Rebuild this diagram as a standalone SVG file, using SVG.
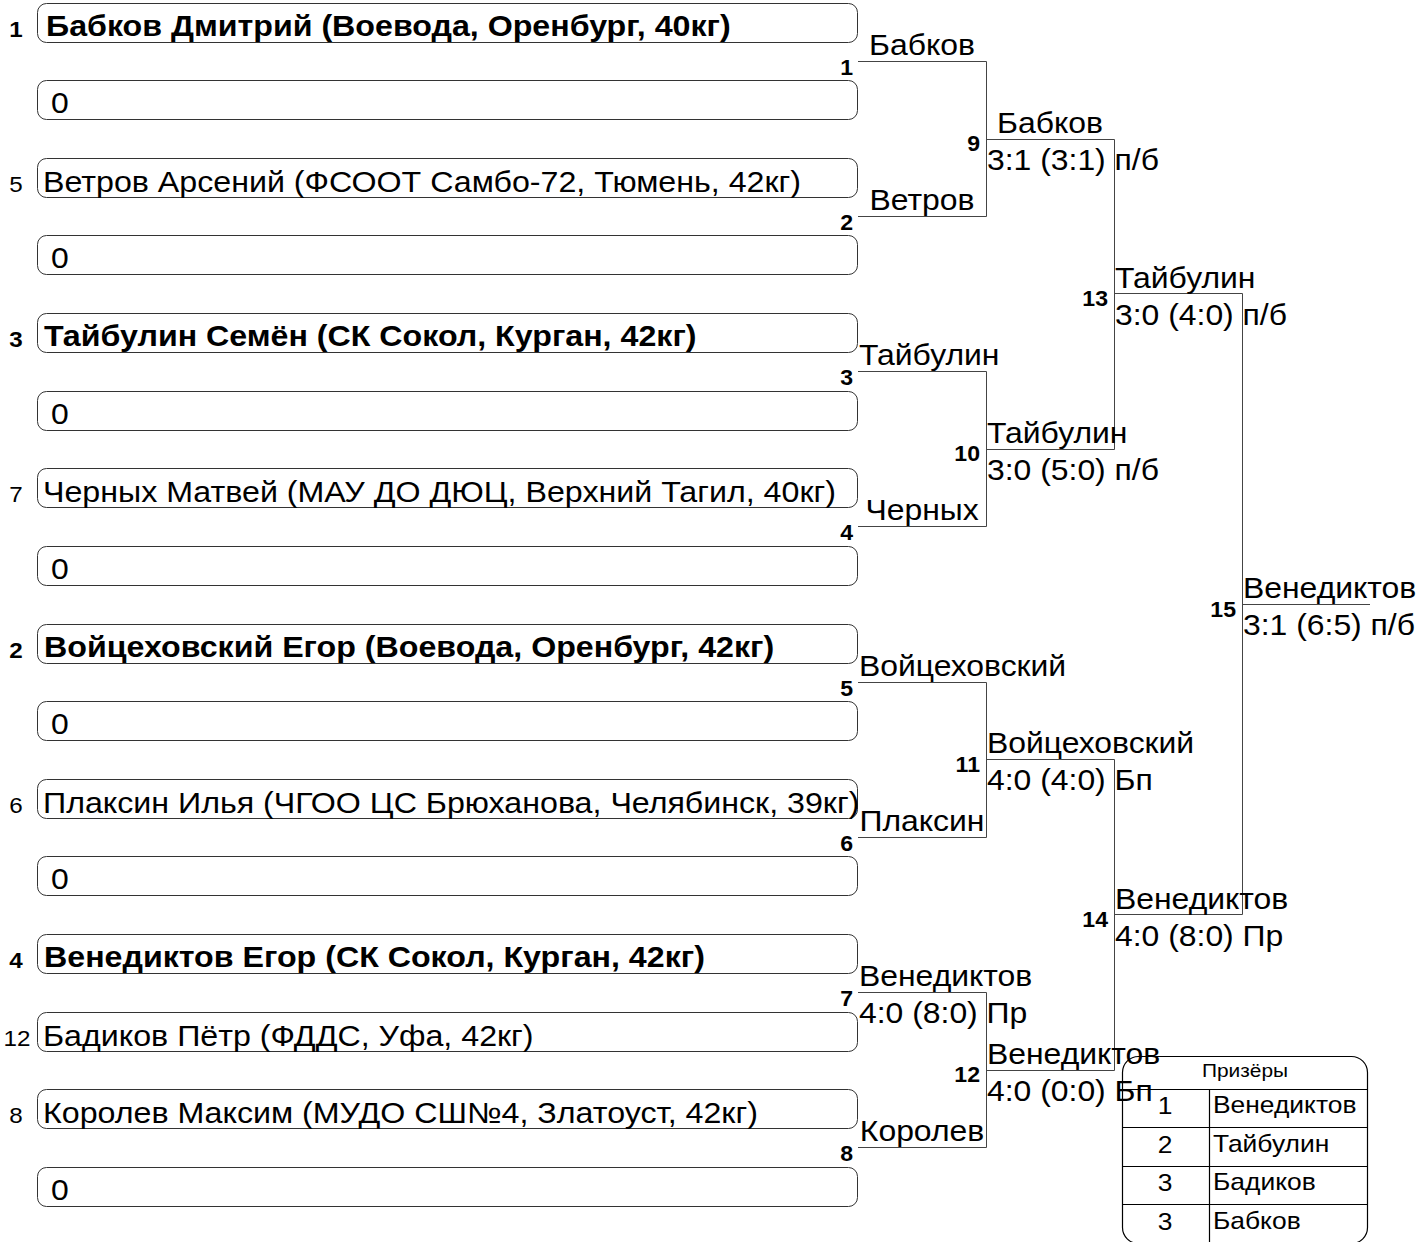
<svg xmlns="http://www.w3.org/2000/svg" width="1418" height="1242" viewBox="0 0 1418 1242">
<style>
  text { font-family: "Liberation Sans", Arial, sans-serif; fill: #000; }
  .box { fill: #fff; stroke: #333; stroke-width: 1; }
  .name { font-size: 29px; }
  .bold { font-weight: bold; }
  .seed { font-size: 22px; text-anchor: middle; }
  .lbl { font-size: 29px; }
  .mid { text-anchor: middle; }
  .num { font-size: 22px; font-weight: bold; text-anchor: end; }
  .conn { fill: none; stroke: #444; stroke-width: 1; }
  .tbl { fill: none; stroke: #000; stroke-width: 1.2; }
  .th { font-size: 19px; text-anchor: middle; }
  .tn { font-size: 24px; text-anchor: middle; }
  .tt { font-size: 24px; }
</style>
<rect width="1418" height="1242" fill="#fff"/>

<g id="participants">
  <g id="slot-1" transform="translate(0,3.5)"><rect class="box" x="37.5" y="0" width="820" height="39" rx="9"/><text class="seed bold" transform="translate(16,33) scale(1.1,1)">1</text><text class="name bold" transform="translate(46,32) scale(1.11,1)">Бабков Дмитрий (Воевода, Оренбург, 40кг)</text></g>
  <g id="slot-2" transform="translate(0,80.5)"><rect class="box" x="37.5" y="0" width="820" height="39" rx="9"/><text class="name" transform="translate(51,32) scale(1.1,1)">0</text></g>
  <g id="slot-3" transform="translate(0,158.5)"><rect class="box" x="37.5" y="0" width="820" height="39" rx="9"/><text class="seed" transform="translate(16,33) scale(1.1,1)">5</text><text class="name" transform="translate(43,33) scale(1.11,1)">Ветров Арсений (ФСООТ Самбо-72, Тюмень, 42кг)</text></g>
  <g id="slot-4" transform="translate(0,235.5)"><rect class="box" x="37.5" y="0" width="820" height="39" rx="9"/><text class="name" transform="translate(51,32) scale(1.1,1)">0</text></g>
  <g id="slot-5" transform="translate(0,313.5)"><rect class="box" x="37.5" y="0" width="820" height="39" rx="9"/><text class="seed bold" transform="translate(16,33) scale(1.1,1)">3</text><text class="name bold" transform="translate(44,32) scale(1.11,1)">Тайбулин Семён (СК Сокол, Курган, 42кг)</text></g>
  <g id="slot-6" transform="translate(0,391.5)"><rect class="box" x="37.5" y="0" width="820" height="39" rx="9"/><text class="name" transform="translate(51,32) scale(1.1,1)">0</text></g>
  <g id="slot-7" transform="translate(0,468.5)"><rect class="box" x="37.5" y="0" width="820" height="39" rx="9"/><text class="seed" transform="translate(16,33) scale(1.1,1)">7</text><text class="name" transform="translate(43,33) scale(1.11,1)">Черных Матвей (МАУ ДО ДЮЦ, Верхний Тагил, 40кг)</text></g>
  <g id="slot-8" transform="translate(0,546.5)"><rect class="box" x="37.5" y="0" width="820" height="39" rx="9"/><text class="name" transform="translate(51,32) scale(1.1,1)">0</text></g>
  <g id="slot-9" transform="translate(0,624.5)"><rect class="box" x="37.5" y="0" width="820" height="39" rx="9"/><text class="seed bold" transform="translate(16,33) scale(1.1,1)">2</text><text class="name bold" transform="translate(44,32) scale(1.11,1)">Войцеховский Егор (Воевода, Оренбург, 42кг)</text></g>
  <g id="slot-10" transform="translate(0,701.5)"><rect class="box" x="37.5" y="0" width="820" height="39" rx="9"/><text class="name" transform="translate(51,32) scale(1.1,1)">0</text></g>
  <g id="slot-11" transform="translate(0,779.5)"><rect class="box" x="37.5" y="0" width="820" height="39" rx="9"/><text class="seed" transform="translate(16,33) scale(1.1,1)">6</text><text class="name" transform="translate(43,33) scale(1.11,1)">Плаксин Илья (ЧГОО ЦС Брюханова, Челябинск, 39кг)</text></g>
  <g id="slot-12" transform="translate(0,856.5)"><rect class="box" x="37.5" y="0" width="820" height="39" rx="9"/><text class="name" transform="translate(51,32) scale(1.1,1)">0</text></g>
  <g id="slot-13" transform="translate(0,934.5)"><rect class="box" x="37.5" y="0" width="820" height="39" rx="9"/><text class="seed bold" transform="translate(16,33) scale(1.1,1)">4</text><text class="name bold" transform="translate(44,32) scale(1.11,1)">Венедиктов Егор (СК Сокол, Курган, 42кг)</text></g>
  <g id="slot-14" transform="translate(0,1012.5)"><rect class="box" x="37.5" y="0" width="820" height="39" rx="9"/><text class="seed" transform="translate(17,33) scale(1.1,1)">12</text><text class="name" transform="translate(43,33) scale(1.11,1)">Бадиков Пётр (ФДДС, Уфа, 42кг)</text></g>
  <g id="slot-15" transform="translate(0,1089.5)"><rect class="box" x="37.5" y="0" width="820" height="39" rx="9"/><text class="seed" transform="translate(16,33) scale(1.1,1)">8</text><text class="name" transform="translate(43,33) scale(1.11,1)">Королев Максим (МУДО СШ№4, Златоуст, 42кг)</text></g>
  <g id="slot-16" transform="translate(0,1167.5)"><rect class="box" x="37.5" y="0" width="820" height="39" rx="9"/><text class="name" transform="translate(51,32) scale(1.1,1)">0</text></g>
</g>

<g id="connectors">
  <path class="conn" d="M858 61.5H986.5V216.5H858"/>
  <path class="conn" d="M858 371.5H986.5V526.5H858"/>
  <path class="conn" d="M858 682.5H986.5V837.5H858"/>
  <path class="conn" d="M858 992.5H986.5V1147.5H858"/>
  <path class="conn" d="M986.5 139.5H1114.5V449.5H986.5"/>
  <path class="conn" d="M986.5 759.5H1114.5V1070.5H986.5"/>
  <path class="conn" d="M1114.5 293.5H1242.5V914.5H1114.5"/>
  <path class="conn" d="M1242.5 604.5H1370"/>
</g>

<g id="match-1"><text class="num" transform="translate(853,75) scale(1.05,1)">1</text><text class="lbl mid" transform="translate(922,55) scale(1.1,1)">Бабков</text></g>
<g id="match-2"><text class="num" transform="translate(853,230) scale(1.05,1)">2</text><text class="lbl mid" transform="translate(922,210) scale(1.1,1)">Ветров</text></g>
<g id="match-3"><text class="num" transform="translate(853,385) scale(1.05,1)">3</text><text class="lbl" transform="translate(859,365) scale(1.1,1)">Тайбулин</text></g>
<g id="match-4"><text class="num" transform="translate(853,540) scale(1.05,1)">4</text><text class="lbl mid" transform="translate(922,520) scale(1.1,1)">Черных</text></g>
<g id="match-5"><text class="num" transform="translate(853,696) scale(1.05,1)">5</text><text class="lbl" transform="translate(859,676) scale(1.1,1)">Войцеховский</text></g>
<g id="match-6"><text class="num" transform="translate(853,851) scale(1.05,1)">6</text><text class="lbl mid" transform="translate(922,831) scale(1.1,1)">Плаксин</text></g>
<g id="match-7"><text class="num" transform="translate(853,1006) scale(1.05,1)">7</text><text class="lbl" transform="translate(859,986) scale(1.1,1)">Венедиктов</text><text class="lbl" transform="translate(859,1023) scale(1.1,1)">4:0 (8:0) Пр</text></g>
<g id="match-8"><text class="num" transform="translate(853,1161) scale(1.05,1)">8</text><text class="lbl mid" transform="translate(922,1141) scale(1.1,1)">Королев</text></g>
<g id="match-9"><text class="num" transform="translate(980,151) scale(1.05,1)">9</text><text class="lbl mid" transform="translate(1050,133) scale(1.1,1)">Бабков</text><text class="lbl" transform="translate(987,170) scale(1.1,1)">3:1 (3:1) п/б</text></g>
<g id="match-10"><text class="num" transform="translate(980,461) scale(1.05,1)">10</text><text class="lbl" transform="translate(987,443) scale(1.1,1)">Тайбулин</text><text class="lbl" transform="translate(987,480) scale(1.1,1)">3:0 (5:0) п/б</text></g>
<g id="match-11"><text class="num" transform="translate(980,772) scale(1.05,1)">11</text><text class="lbl" transform="translate(987,753) scale(1.1,1)">Войцеховский</text><text class="lbl" transform="translate(987,790) scale(1.1,1)">4:0 (4:0) Бп</text></g>
<g id="match-12"><text class="num" transform="translate(980,1082) scale(1.05,1)">12</text><text class="lbl" transform="translate(987,1064) scale(1.1,1)">Венедиктов</text><text class="lbl" transform="translate(987,1101) scale(1.1,1)">4:0 (0:0) Бп</text></g>
<g id="match-13"><text class="num" transform="translate(1108,306) scale(1.05,1)">13</text><text class="lbl" transform="translate(1115,288) scale(1.1,1)">Тайбулин</text><text class="lbl" transform="translate(1115,325) scale(1.1,1)">3:0 (4:0) п/б</text></g>
<g id="match-14"><text class="num" transform="translate(1108,927) scale(1.05,1)">14</text><text class="lbl" transform="translate(1115,909) scale(1.1,1)">Венедиктов</text><text class="lbl" transform="translate(1115,946) scale(1.1,1)">4:0 (8:0) Пр</text></g>
<g id="match-15"><text class="num" transform="translate(1236,617) scale(1.05,1)">15</text><text class="lbl" transform="translate(1243,598) scale(1.1,1)">Венедиктов</text><text class="lbl" transform="translate(1243,635) scale(1.1,1)">3:1 (6:5) п/б</text></g>

<g id="medal-table">
  <rect class="tbl" x="1122.5" y="1056.5" width="245" height="187" rx="16"/>
  <path class="tbl" d="M1122.5 1089.5H1367.5M1122.5 1127.5H1367.5M1122.5 1166.5H1367.5M1122.5 1204.5H1367.5M1209.5 1089.5V1243"/>
  <text class="th" transform="translate(1245,1077) scale(1.1,1)">Призёры</text>
  <text class="tn" transform="translate(1165,1114) scale(1.1,1)">1</text><text class="tt" transform="translate(1213,1113) scale(1.1,1)">Венедиктов</text>
  <text class="tn" transform="translate(1165,1153) scale(1.1,1)">2</text><text class="tt" transform="translate(1213,1152) scale(1.1,1)">Тайбулин</text>
  <text class="tn" transform="translate(1165,1191) scale(1.1,1)">3</text><text class="tt" transform="translate(1213,1190) scale(1.1,1)">Бадиков</text>
  <text class="tn" transform="translate(1165,1230) scale(1.1,1)">3</text><text class="tt" transform="translate(1213,1229) scale(1.1,1)">Бабков</text>
</g>
</svg>
